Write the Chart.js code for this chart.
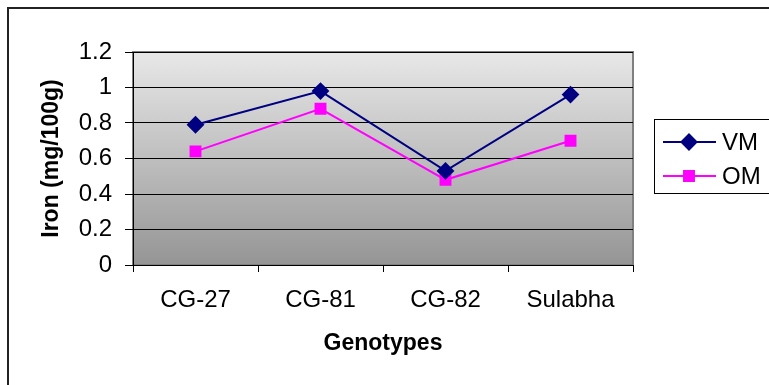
<!DOCTYPE html>
<html>
<head>
<meta charset="utf-8">
<script src="https://cdn.jsdelivr.net/npm/chart.js@4.4.0/dist/chart.umd.min.js"></script>
<style>
  html, body { margin: 0; padding: 0; background: #fff; }
  #wrap { width: 769px; height: 385px; }
</style>
</head>
<body>
<div id="wrap"><canvas id="mycanvas" width="769" height="385"></canvas></div>
<script>
// data
var genotypes = ['CG-27', 'CG-81', 'CG-82', 'Sulabha'];
var vmIron = [0.79, 0.98, 0.53, 0.96];
var omIron = [0.64, 0.88, 0.48, 0.70];
var yTicks = [0, 0.2, 0.4, 0.6, 0.8, 1, 1.2];

var fam = '"Liberation Sans", Arial';

// grey gradient behind the plot + thin frame round the whole chart
var chartBack = {
	id: 'chartBack',
	beforeDraw: function(chart) {
		var ctx = chart.ctx;
		var a = chart.chartArea;
		ctx.save();
		ctx.strokeStyle = '#222';
		ctx.lineWidth = 2;
		ctx.strokeRect(8, 8, 800, 400);
		var g = ctx.createLinearGradient(0, a.top, 0, a.bottom);
		g.addColorStop(0, '#e8e8e8');
		g.addColorStop(1, '#959595');
		ctx.fillStyle = g;
		ctx.fillRect(a.left, a.top, a.right - a.left, a.bottom - a.top);
		ctx.strokeStyle = '#808080';
		ctx.lineWidth = 2;
		ctx.strokeRect(a.left, a.top, a.right - a.left, a.bottom - a.top);
		ctx.restore();
	}
};

// legend in a box on the right, like the old spreadsheet one
var boxLegend = {
	id: 'boxLegend',
	afterDraw: function(chart) {
		var ctx = chart.ctx;
		var x = 654, y = 119;
		ctx.save();
		ctx.strokeStyle = '#000';
		ctx.lineWidth = 1;
		ctx.strokeRect(x + 0.5, y + 0.5, 130, 74);
		chart.data.datasets.forEach(function(ds, i) {
			var cy = y + 23 + i * 34;
			ctx.strokeStyle = ds.borderColor;
			ctx.lineWidth = 2;
			ctx.beginPath();
			ctx.moveTo(x + 9, cy);
			ctx.lineTo(x + 62, cy);
			ctx.stroke();
			Chart.helpers.drawPoint(ctx, {
				pointStyle: ds.pointStyle,
				radius: ds.pointRadius,
				rotation: 0,
				borderWidth: 1
			}, x + 35, cy);
			ctx.fillStyle = ds.pointBackgroundColor;
			ctx.fill();
			ctx.fillStyle = '#000';
			ctx.font = '24px ' + fam;
			ctx.textBaseline = 'middle';
			ctx.fillText(ds.label, x + 68, cy + 1);
		});
		ctx.restore();
	}
};

var chartdata = {
	labels: genotypes,
	datasets: [
		{
			label: 'VM',
			data: vmIron,
			borderColor: '#000080',
			backgroundColor: '#000080',
			pointBackgroundColor: '#000080',
			pointBorderColor: '#000080',
			pointStyle: 'rectRot',
			pointRadius: 7.5,
			borderWidth: 2
		},
		{
			label: 'OM',
			data: omIron,
			borderColor: '#ff00ff',
			backgroundColor: '#ff00ff',
			pointBackgroundColor: '#ff00ff',
			pointBorderColor: '#ff00ff',
			pointStyle: 'rect',
			pointRadius: 7,
			borderWidth: 2
		}
	]
};

var ctx = document.getElementById('mycanvas');

var lineGraph = new Chart(ctx, {
	type: 'line',
	data: chartdata,
	plugins: [chartBack, boxLegend],
	options: {
		responsive: false,
		animation: false,
		layout: { padding: { top: 52, right: 136, left: 0, bottom: 0 } },
		plugins: { legend: { display: false }, tooltip: { enabled: false } },
		scales: {
			x: {
				offset: true,
				afterFit: function(s) { s.height = 120; },
				grid: { offset: true, drawOnChartArea: false, color: '#000', tickLength: 7 },
				border: { color: '#000', width: 1 },
				ticks: { color: '#000', padding: 14, font: { family: fam, size: 24 } },
				title: {
					display: true, text: 'Genotypes', color: '#000',
					padding: { top: 0, bottom: 28 },
					font: { family: fam, size: 23, weight: 'bold' }
				}
			},
			y: {
				min: 0, max: 1.2,
				afterFit: function(s) { s.width = 133; },
				afterBuildTicks: function(s) { s.ticks = yTicks.map(function(v) { return { value: v }; }); },
				grid: { color: '#000', tickLength: 8 },
				border: { color: '#000', width: 1 },
				ticks: {
					color: '#000', padding: 13, font: { family: fam, size: 24 },
					callback: function(v) { return String(v); }
				},
				title: {
					display: true, text: 'Iron (mg/100g)', color: '#000',
					padding: { top: 38, bottom: 0 },
					font: { family: fam, size: 23, weight: 'bold' }
				}
			}
		}
	}
});
</script>
</body>
</html>
